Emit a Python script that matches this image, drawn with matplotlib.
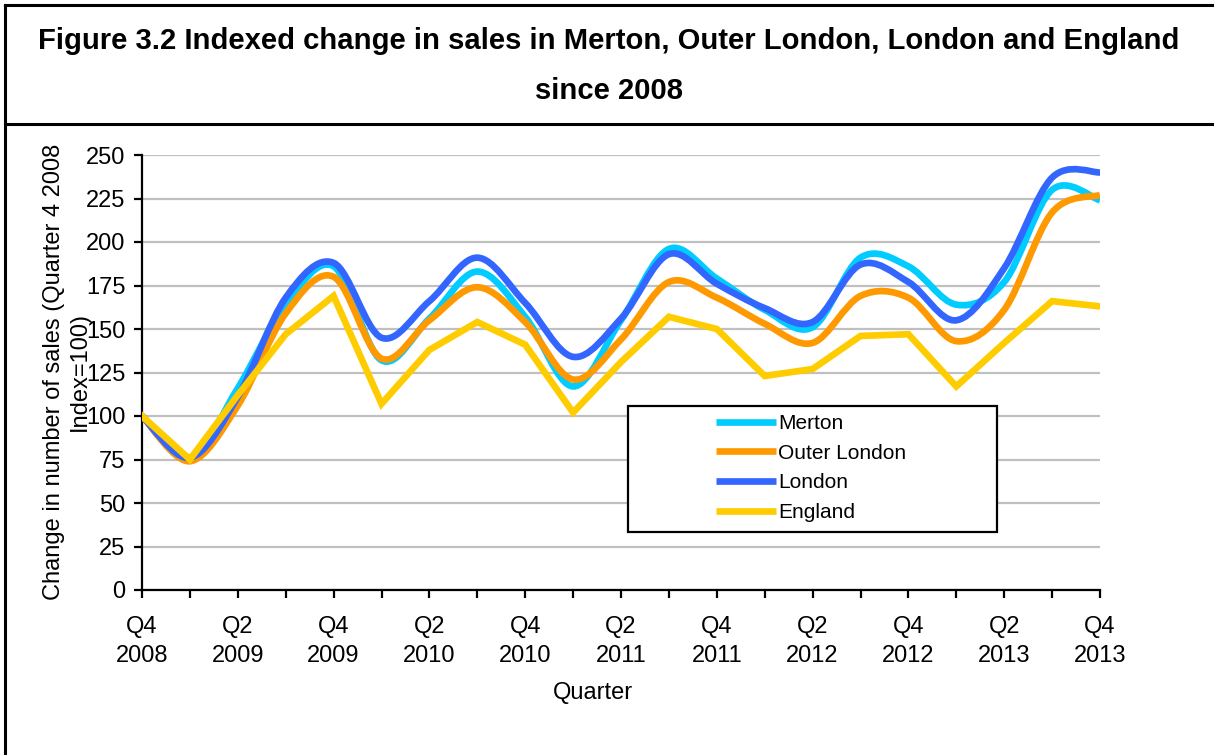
import matplotlib
matplotlib.use("Agg")
import matplotlib.pyplot as plt
from matplotlib.path import Path
from matplotlib.patches import PathPatch, Rectangle
from matplotlib.lines import Line2D

plt.rcParams['font.family'] = ['Liberation Sans', 'DejaVu Sans']

# quarterly data, Q4 2008 = 100
quarters = ['Q4\n2008', 'Q1\n2009', 'Q2\n2009', 'Q3\n2009', 'Q4\n2009',
            'Q1\n2010', 'Q2\n2010', 'Q3\n2010', 'Q4\n2010',
            'Q1\n2011', 'Q2\n2011', 'Q3\n2011', 'Q4\n2011',
            'Q1\n2012', 'Q2\n2012', 'Q3\n2012', 'Q4\n2012',
            'Q1\n2013', 'Q2\n2013', 'Q3\n2013', 'Q4\n2013']
merton = [100, 76, 116, 164, 186, 132, 156, 183, 157, 117, 155,
          196, 179, 161, 151, 191, 186, 164, 177, 230, 224]
outer_london = [100, 74, 106, 159, 180, 133, 155, 174, 154, 121, 144,
                177, 168, 153, 142, 169, 168, 143, 161, 217, 227]
london = [100, 76, 111, 168, 188, 145, 166, 191, 165, 134, 156,
          193, 176, 162, 154, 187, 177, 155, 185, 237, 240]
england = [100, 75, 112, 147, 169, 107, 138, 154, 141, 102, 131,
           157, 150, 123, 127, 146, 147, 117, 142, 166, 163]

series_names = ['Merton', 'Outer London', 'London', 'England']
series_colors = ['#00CCFF', '#FF9900', '#3366FF', '#FFCC00']
series_smooth = [True, True, True, False]

W, H = 1214, 755
fig = plt.figure(figsize=(W / 100, H / 100), dpi=100)
ax = fig.add_axes([142 / W, 1 - 590 / H, (1100 - 142) / W, (590 - 155) / H])


def smooth_path(xs, ys):
    # catmull-rom style bezier through the points (like excel's smoothed line)
    n = len(xs)
    verts = [(xs[0], ys[0])]
    codes = [Path.MOVETO]
    for i in range(n - 1):
        a = i - 1 if i > 0 else i
        d = i + 2 if i + 2 < n else i + 1
        c1 = (xs[i] + (xs[i + 1] - xs[a]) / 6, ys[i] + (ys[i + 1] - ys[a]) / 6)
        c2 = (xs[i + 1] - (xs[d] - xs[i]) / 6, ys[i + 1] - (ys[d] - ys[i]) / 6)
        verts += [c1, c2, (xs[i + 1], ys[i + 1])]
        codes += [Path.CURVE4] * 3
    return Path(verts, codes)


x = list(range(len(quarters)))
all_series = [merton, outer_london, london, england]
handles = []
for vals, name, col, sm in zip(all_series, series_names, series_colors, series_smooth):
    if sm:
        patch = PathPatch(smooth_path(x, vals), facecolor='none', edgecolor=col,
                          lw=4.8, joinstyle='round', capstyle='butt', zorder=3)
        ax.add_patch(patch)
    else:
        ax.plot(x, vals, color=col, lw=4.8, solid_joinstyle='miter', zorder=3)
    handles.append(Line2D([], [], color=col, lw=4.8, solid_capstyle='butt'))

ax.set_xlim(0, 20)
ax.set_ylim(0, 250)
ax.set_yticks(range(0, 251, 25))
ax.set_xticks(x)
ax.set_xticklabels([q if i % 2 == 0 else '' for i, q in enumerate(quarters)])
for t in ax.get_xticklabels():
    t.set_linespacing(1.4)
ax.yaxis.grid(True, color='#C0C0C0', lw=1.6)
ax.set_axisbelow(True)
for s in ['top', 'right']:
    ax.spines[s].set_visible(False)
for s in ['left', 'bottom']:
    ax.spines[s].set_linewidth(1.6)
ax.tick_params(axis='both', direction='out', length=6, width=1.6, labelsize=17)
ax.tick_params(axis='y', pad=6)
ax.tick_params(axis='x', pad=13)

# legend box
ax.add_patch(Rectangle((0.507, 0.133), 0.3856, 0.29, transform=ax.transAxes,
                       facecolor='white', edgecolor='black', lw=1.6, zorder=4))
ax.legend(handles, series_names, loc='upper left', bbox_to_anchor=(0.599, 0.405),
          frameon=False, fontsize=15, handlelength=2.9, handletextpad=0.1,
          labelspacing=0.52, borderpad=0, borderaxespad=0).set_zorder(5)

fig.text(593 / W, 1 - 693 / H, 'Quarter', fontsize=17, ha='center', va='center')
fig.text(67 / W, 1 - 372 / H, 'Change in number of sales (Quarter 4 2008\nIndex=100)',
         fontsize=17, rotation=90, ha='center', va='center', linespacing=1.2)

# title block with frame lines
fig.text(0.5017, 1 - 41 / H,
         'Figure 3.2 Indexed change in sales in Merton, Outer London, London and England',
         fontsize=21.1, fontweight='bold', ha='center', va='center')
fig.text(0.5017, 1 - 91 / H, 'since 2008', fontsize=21.1, fontweight='bold',
         ha='center', va='center')
fig.add_artist(Line2D([5 / W, 1], [1 - 5 / H, 1 - 5 / H], transform=fig.transFigure,
                      color='black', lw=2.2))
fig.add_artist(Line2D([5 / W, 1], [1 - 124 / H, 1 - 124 / H], transform=fig.transFigure,
                      color='black', lw=2.2))
fig.add_artist(Line2D([5 / W, 5 / W], [0, 1 - 5 / H], transform=fig.transFigure,
                      color='black', lw=2.2))

fig.savefig('out.png', dpi=100)
